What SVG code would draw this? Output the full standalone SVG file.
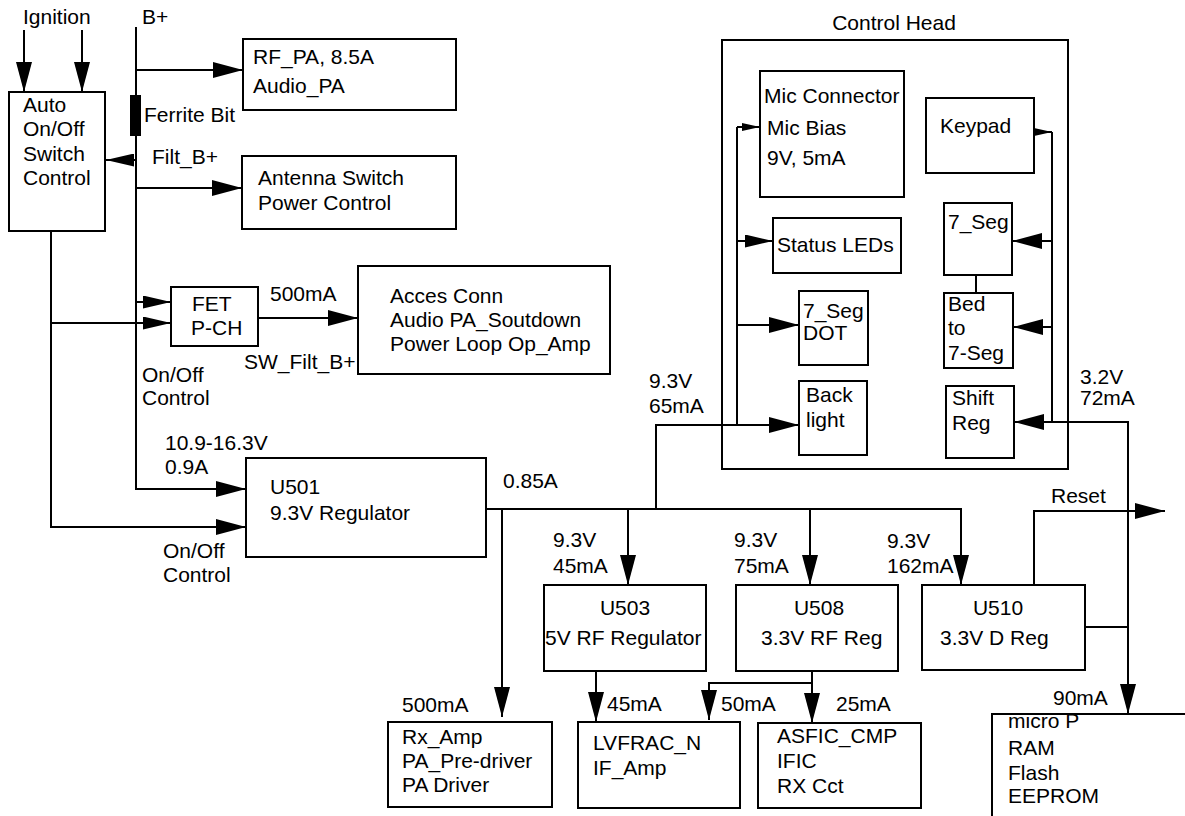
<svg xmlns="http://www.w3.org/2000/svg" width="1185" height="816" viewBox="0 0 1185 816">
<defs>
<marker id="aL" markerUnits="userSpaceOnUse" markerWidth="30" markerHeight="16" refX="30" refY="8" orient="auto"><path d="M0,0 L30,8 L0,16 z" fill="#000"/></marker>
<marker id="aM" markerUnits="userSpaceOnUse" markerWidth="28" markerHeight="13" refX="28" refY="6.5" orient="auto"><path d="M0,0 L28,6.5 L0,13 z" fill="#000"/></marker>
<marker id="aS" markerUnits="userSpaceOnUse" markerWidth="18" markerHeight="8" refX="18" refY="4" orient="auto"><path d="M0,0 L18,4 L0,8 z" fill="#000"/></marker>
</defs>
<style>
text{font-family:"Liberation Sans",Arial,sans-serif;font-size:21px;fill:#000}
.b{fill:#fff;stroke:#000;stroke-width:2}
.c{fill:none;stroke:#000;stroke-width:2}
.m{text-anchor:middle}
</style>
<rect width="1185" height="816" fill="#fff"/>
<g id="connectors">
<path class="c" d="M24,30 V92" marker-end="url(#aL)"/>
<path class="c" d="M82,30 V92" marker-end="url(#aL)"/>
<path class="c" d="M136,27 V489 H246" marker-end="url(#aL)"/>
<path class="c" d="M136,70 H243" marker-end="url(#aL)"/>
<path class="c" d="M136,160 H106" marker-end="url(#aM)"/>
<path class="c" d="M136,188 H242" marker-end="url(#aL)"/>
<path class="c" d="M136,302 H171" marker-end="url(#aM)"/>
<path class="c" d="M51,231 V527 H246" marker-end="url(#aL)"/>
<path class="c" d="M51,323 H171" marker-end="url(#aM)"/>
<path class="c" d="M258,318 H358" marker-end="url(#aL)"/>
<path class="c" d="M486,509 H961 V585" marker-end="url(#aL)"/>
<path class="c" d="M502,509 V717" marker-end="url(#aL)"/>
<path class="c" d="M628,509 V585" marker-end="url(#aL)"/>
<path class="c" d="M810,509 V585" marker-end="url(#aL)"/>
<path class="c" d="M656,509 V425 H799" marker-end="url(#aL)"/>
<path class="c" d="M737,425 V127"/>
<path class="c" d="M737,127 H760" marker-end="url(#aS)"/>
<path class="c" d="M737,241 H773" marker-end="url(#aM)"/>
<path class="c" d="M737,325 H799" marker-end="url(#aL)"/>
<path class="c" d="M1034,132 H1052" marker-end="url(#aS)"/>
<path class="c" d="M1052,132 V422"/>
<path class="c" d="M1052,241 H1012" marker-end="url(#aL)"/>
<path class="c" d="M1052,327 H1013" marker-end="url(#aL)"/>
<path class="c" d="M1052,422 H1014" marker-end="url(#aL)"/>
<path class="c" d="M976,275 V293"/>
<path class="c" d="M1052,422 H1128 V714" marker-end="url(#aL)"/>
<path class="c" d="M1085,627 H1128"/>
<path class="c" d="M1034,585 V511 H1165" marker-end="url(#aL)"/>
<path class="c" d="M596,671 V722" marker-end="url(#aL)"/>
<path class="c" d="M812,671 V723" marker-end="url(#aL)"/>
<path class="c" d="M812,683 H709 V720" marker-end="url(#aL)"/>
</g>
<text x="23" y="24">Ignition</text>
<text x="142" y="24">B+</text>
<rect x="130" y="95" width="11" height="41" fill="#000"/>
<text x="144" y="122">Ferrite Bit</text>
<text x="152" y="164">Filt_B+</text>
<g id="auto">
<rect class="b" x="9" y="92" width="96" height="139"/>
<text x="23" y="112">Auto</text>
<text x="23" y="136">On/Off</text>
<text x="23" y="161">Switch</text>
<text x="23" y="185">Control</text>
</g>
<g id="rfpa">
<rect class="b" x="243" y="39" width="213" height="71"/>
<text x="253" y="64">RF_PA, 8.5A</text>
<text x="253" y="93">Audio_PA</text>
</g>
<g id="antenna">
<rect class="b" x="242" y="156" width="214" height="73"/>
<text x="258" y="185">Antenna Switch</text>
<text x="258" y="210">Power Control</text>
</g>
<g id="fet">
<rect class="b" x="171" y="287" width="87" height="59"/>
<text x="192" y="311">FET</text>
<text x="191" y="335">P-CH</text>
</g>
<text x="270" y="301">500mA</text>
<text x="244" y="369">SW_Filt_B+</text>
<text x="142" y="382">On/Off</text>
<text x="142" y="405">Control</text>
<g id="acces">
<rect class="b" x="358" y="266" width="252" height="108"/>
<text x="390" y="303">Acces Conn</text>
<text x="390" y="327">Audio PA_Soutdown</text>
<text x="390" y="351">Power Loop Op_Amp</text>
</g>
<g id="controlhead">
<rect class="c" x="722" y="40" width="346" height="429"/>
<text class="m" x="894" y="30">Control Head</text>
</g>
<g id="mic">
<rect class="b" x="760" y="71" width="144" height="126"/>
<text x="764" y="103">Mic Connector</text>
<text x="767" y="135">Mic Bias</text>
<text x="767" y="165">9V, 5mA</text>
</g>
<g id="keypad">
<rect class="b" x="926" y="98" width="108" height="75"/>
<text x="940" y="133">Keypad</text>
</g>
<g id="status">
<rect class="b" x="773" y="218" width="128" height="55"/>
<text x="777" y="252">Status LEDs</text>
</g>
<g id="seg7">
<rect class="b" x="944" y="203" width="68" height="72"/>
<text x="948" y="229">7_Seg</text>
</g>
<g id="segdot">
<rect class="b" x="799" y="291" width="69" height="74"/>
<text x="803" y="318">7_Seg</text>
<text x="803" y="340">DOT</text>
</g>
<g id="bed">
<rect class="b" x="944" y="293" width="69" height="75"/>
<text x="948" y="311">Bed</text>
<text x="948" y="335">to</text>
<text x="948" y="360">7-Seg</text>
</g>
<g id="backlight">
<rect class="b" x="799" y="381" width="68" height="74"/>
<text x="806" y="402">Back</text>
<text x="806" y="427">light</text>
</g>
<g id="shiftreg">
<rect class="b" x="946" y="386" width="68" height="72"/>
<text x="952" y="405">Shift</text>
<text x="952" y="430">Reg</text>
</g>
<text x="649" y="388">9.3V</text>
<text x="649" y="413">65mA</text>
<text x="1080" y="384">3.2V</text>
<text x="1080" y="405">72mA</text>
<text x="165" y="450">10.9-16.3V</text>
<text x="165" y="474">0.9A</text>
<g id="u501">
<rect class="b" x="246" y="458" width="240" height="99"/>
<text x="270" y="494">U501</text>
<text x="270" y="520">9.3V Regulator</text>
</g>
<text x="503" y="488">0.85A</text>
<text x="163" y="558">On/Off</text>
<text x="163" y="582">Control</text>
<text x="553" y="547">9.3V</text>
<text x="553" y="573">45mA</text>
<text x="734" y="547">9.3V</text>
<text x="734" y="573">75mA</text>
<text x="887" y="548">9.3V</text>
<text x="887" y="573">162mA</text>
<text x="1051" y="503">Reset</text>
<g id="u503">
<rect class="b" x="544" y="585" width="162" height="86"/>
<text class="m" x="625" y="615">U503</text>
<text x="545" y="645">5V RF Regulator</text>
</g>
<g id="u508">
<rect class="b" x="736" y="585" width="162" height="86"/>
<text class="m" x="819" y="615">U508</text>
<text x="761" y="645">3.3V RF Reg</text>
</g>
<g id="u510">
<rect class="b" x="922" y="585" width="163" height="85"/>
<text class="m" x="998" y="615">U510</text>
<text x="940" y="645">3.3V D Reg</text>
</g>
<text x="402" y="712">500mA</text>
<text x="607" y="711">45mA</text>
<text x="721" y="711">50mA</text>
<text x="836" y="711">25mA</text>
<text x="1053" y="705">90mA</text>
<g id="rx">
<rect class="b" x="388" y="722" width="164" height="85"/>
<text x="402" y="744">Rx_Amp</text>
<text x="402" y="768">PA_Pre-driver</text>
<text x="402" y="792">PA Driver</text>
</g>
<g id="lvfrac">
<rect class="b" x="578" y="722" width="162" height="86"/>
<text x="593" y="750">LVFRAC_N</text>
<text x="593" y="775">IF_Amp</text>
</g>
<g id="asfic">
<rect class="b" x="758" y="723" width="163" height="85"/>
<text x="777" y="743">ASFIC_CMP</text>
<text x="777" y="768">IFIC</text>
<text x="777" y="793">RX Cct</text>
</g>
<g id="microp">
<path class="c" d="M1185,714 H992 V816"/>
<text x="1008" y="728">micro P</text>
<text x="1008" y="755">RAM</text>
<text x="1008" y="780">Flash</text>
<text x="1008" y="803">EEPROM</text>
</g>
</svg>
